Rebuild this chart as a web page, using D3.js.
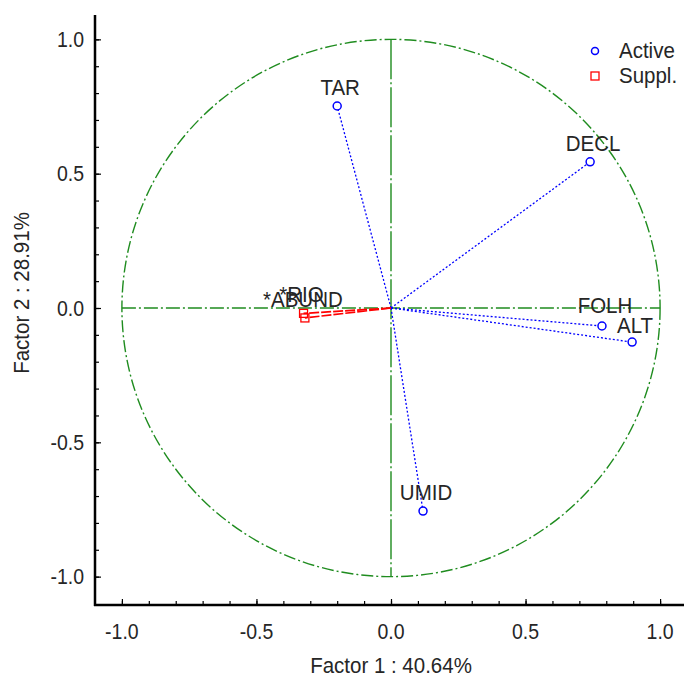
<!DOCTYPE html>
<html><head><meta charset="utf-8">
<script src="https://cdn.jsdelivr.net/npm/d3@7"></script>
<style>body{margin:0;background:#fff}svg{display:block}text{font-family:"Liberation Sans",Arial,sans-serif;fill:#262626}</style>
</head><body>
<script>
const activeNames = ["TAR","DECL","FOLH","ALT","UMID"];
const activeX = [-0.20, 0.74, 0.784, 0.896, 0.119];
const activeY = [0.752, 0.544, -0.067, -0.127, -0.756];
const supplNames = ["*RIO","*ABUND"];
const supplX = [-0.325, -0.32];
const supplY = [-0.02, -0.037];
const majorTicks = [-1.0, -0.5, 0.0, 0.5, 1.0];
const minorTicks = d3.range(-10, 11).map(i => i / 10);
const xTitle = "Factor 1 : 40.64%";
const yTitle = "Factor 2 : 28.91%";
const legendLabels = ["Active", "Suppl."];

const W = 684, H = 677, FS = 20.5, FT = 19.5, SY = 1.1;
const svg = d3.select("body").append("svg").attr("width", W).attr("height", H);
const x = d3.scaleLinear().domain([-1.1, 1.1]).range([95, 687]);
const y = d3.scaleLinear().domain([-1.1, 1.1]).range([603.5, 12.5]);
const green = "#1f8c1f", blue = "#0000ff", red = "#ff0000";

function label(g, px, py, txt, anchor, rot, fs) {
  const t = g.append("g").attr("transform", `translate(${px},${py})${rot ? " rotate(" + rot + ")" : ""} scale(1,${SY})`);
  t.append("text").attr("text-anchor", anchor || "middle").attr("font-size", fs || FS).text(txt);
}

// green reference circle and axes lines
svg.append("ellipse").attr("cx", x(0)).attr("cy", y(0))
  .attr("rx", x(1) - x(0)).attr("ry", y(0) - y(1))
  .attr("fill", "none").attr("stroke", green).attr("stroke-width", 1.4).attr("stroke-dasharray", "12,3,2,3");
svg.append("line").attr("x1", x(-1)).attr("x2", x(1)).attr("y1", y(0)).attr("y2", y(0))
  .attr("stroke", green).attr("stroke-width", 1.4).attr("stroke-dasharray", "14,3,2,3");
svg.append("line").attr("x1", x(0)).attr("x2", x(0)).attr("y1", y(1)).attr("y2", y(-1))
  .attr("stroke", green).attr("stroke-width", 1.4).attr("stroke-dasharray", "40,3,2,3");

// vectors
activeX.forEach((v, i) => {
  svg.append("line").attr("x1", x(0)).attr("y1", y(0)).attr("x2", x(v)).attr("y2", y(activeY[i]))
    .attr("stroke", blue).attr("stroke-width", 1.3).attr("stroke-dasharray", "2,2");
});
supplX.forEach((v, i) => {
  svg.append("line").attr("x1", x(0)).attr("y1", y(0)).attr("x2", x(v)).attr("y2", y(supplY[i]))
    .attr("stroke", red).attr("stroke-width", 1.7).attr("stroke-dasharray", "10,2");
});

// markers
activeX.forEach((v, i) => {
  svg.append("circle").attr("cx", x(v)).attr("cy", y(activeY[i])).attr("r", 4)
    .attr("fill", "#fff").attr("stroke", blue).attr("stroke-width", 1.5);
});
supplX.forEach((v, i) => {
  svg.append("rect").attr("x", x(v) - 4).attr("y", y(supplY[i]) - 4).attr("width", 8).attr("height", 8)
    .attr("fill", "none").attr("stroke", red).attr("stroke-width", 1.3);
});

// point labels (small vertical nudges as in the reference)
const nudge = {FOLH: -2, ALT: 2};
activeX.forEach((v, i) => label(svg, x(v) + 3, y(activeY[i]) - 11 + (nudge[activeNames[i]] || 0), activeNames[i]));
supplX.forEach((v, i) => label(svg, x(v) - 2, y(supplY[i]) - 11, supplNames[i]));

// axes
const ax = svg.append("g");
ax.append("line").attr("x1", 95).attr("x2", 95).attr("y1", 15).attr("y2", 606).attr("stroke", "#000").attr("stroke-width", 2.5);
ax.append("line").attr("x1", 94).attr("x2", 684).attr("y1", 605).attr("y2", 605).attr("stroke", "#000").attr("stroke-width", 2.5);

const yMinor = svg.append("g").attr("transform", "translate(95,0)")
  .call(d3.axisRight(y).tickValues(minorTicks).tickSize(4).tickFormat(""));
const yMajor = svg.append("g").attr("transform", "translate(95,0)")
  .call(d3.axisRight(y).tickValues(majorTicks).tickSize(6).tickFormat(""));
const xMinor = svg.append("g").attr("transform", "translate(0,605)")
  .call(d3.axisTop(x).tickValues(minorTicks).tickSize(4).tickFormat(""));
const xMajor = svg.append("g").attr("transform", "translate(0,605)")
  .call(d3.axisTop(x).tickValues(majorTicks).tickSize(6).tickFormat(""));
[yMinor, yMajor, xMinor, xMajor].forEach(g => {
  g.select(".domain").remove();
  g.selectAll("line").attr("stroke", "#000").attr("stroke-width", 1.2);
});

// tick labels
majorTicks.forEach(t => {
  label(svg, 84, y(t) + 7.5, t.toFixed(1), "end", 0, FT);
  label(svg, x(t), 639, t.toFixed(1), "middle", 0, FT);
});

// titles
label(svg, x(0), 673, xTitle, "middle");
label(svg, 29, 293, yTitle, "middle", -90);

// legend
svg.append("circle").attr("cx", 595).attr("cy", 51).attr("r", 3.5).attr("fill", "#fff").attr("stroke", blue).attr("stroke-width", 1.5);
svg.append("rect").attr("x", 591).attr("y", 72).attr("width", 8).attr("height", 8).attr("fill", "none").attr("stroke", red).attr("stroke-width", 1.3);
label(svg, 619, 58, legendLabels[0], "start");
label(svg, 619, 83, legendLabels[1], "start");
</script>
</body></html>
